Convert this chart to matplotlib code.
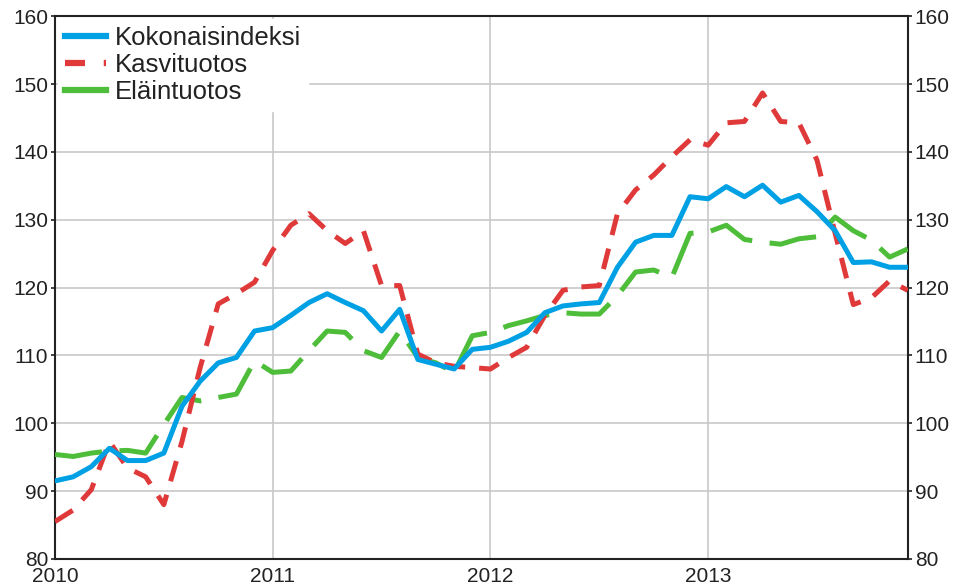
import numpy as np
import matplotlib.pyplot as plt

# kuukaudet 2010-01 ... 2013-12
months = np.arange(48)

kokonais = [91.5, 92.1, 93.6, 96.3, 94.5, 94.5, 95.6, 102.5, 106.2, 108.9, 109.7, 113.6,
            114.1, 115.9, 117.8, 119.1, 117.8, 116.6, 113.6, 116.8, 109.4, 108.7, 108.0, 110.9,
            111.2, 112.1, 113.4, 116.3, 117.3, 117.6, 117.8, 123.0, 126.7, 127.7, 127.7, 133.4,
            133.1, 134.9, 133.4, 135.1, 132.6, 133.6, 131.2, 128.4, 123.7, 123.8, 123.0, 123.0]

kasvi = [85.5, 87.2, 90.2, 97.3, 93.4, 92.1, 88.0, 97.3, 108.2, 117.6, 119.1, 120.8,
         125.5, 129.2, 130.9, 128.4, 126.5, 128.4, 120.3, 120.3, 110.2, 108.9, 108.4, 108.2,
         108.0, 109.7, 111.2, 115.9, 119.6, 120.1, 120.3, 130.9, 134.4, 136.6, 139.3, 141.8,
         141.0, 144.3, 144.5, 148.7, 144.5, 144.3, 138.8, 128.0, 117.5, 118.5, 121.0, 119.6]

elain = [95.4, 95.1, 95.6, 95.9, 96.0, 95.6, 99.8, 103.8, 103.3, 103.8, 104.3, 109.2,
         107.5, 107.7, 110.7, 113.6, 113.4, 110.7, 109.7, 113.6, 109.7, 108.9, 107.5, 112.9,
         113.4, 114.4, 115.1, 115.9, 116.3, 116.1, 116.1, 118.8, 122.3, 122.6, 121.5, 128.0,
         128.2, 129.2, 127.1, 126.7, 126.4, 127.2, 127.5, 130.4, 128.4, 127.0, 124.5, 125.7]

year_labels = ["2010", "2011", "2012", "2013"]

plt.rcParams['font.family'] = ['Liberation Sans', 'DejaVu Sans']

fig = plt.figure(figsize=(9.56, 5.84), dpi=100)
ax = fig.add_axes([0.0575, 0.043, 0.892, 0.929])

lw = 3.6
ax.plot(months, kokonais, color='#00a0e4', lw=lw, label='Kokonaisindeksi', zorder=5)
ax.plot(months, kasvi, color='#e0393a', lw=lw, dashes=(4.2, 2.8), label='Kasvituotos', zorder=4)
ax.plot(months, elain, color='#4dbd3a', lw=lw, dashes=(9.5, 3.5), label='Eläintuotos', zorder=3)

ax.set_xlim(0, 47)
ax.set_ylim(80, 160)
ax.set_xticks([0, 12, 24, 36])
ax.set_xticklabels(year_labels)
ax.set_yticks(np.arange(80, 161, 10))
ax.grid(True, color='#c8c8c8', lw=1.2)
ax.set_axisbelow(True)

ax.tick_params(axis='x', length=0, pad=5.5, labelsize=15, colors='#222222')
ax.tick_params(axis='y', length=3, width=1.2, pad=2, labelsize=15, colors='#222222',
               left=True, right=True, labelleft=True, labelright=True)
for s in ax.spines.values():
    s.set_color('#222222')
    s.set_linewidth(1.5)

leg = ax.legend(loc='upper left', fontsize=18.5, frameon=True, fancybox=False,
                borderaxespad=0.1, handlelength=1.6, handletextpad=0.35,
                labelspacing=0.12, borderpad=0.28)
leg.get_frame().set_edgecolor('white')
leg.get_frame().set_facecolor('white')
leg.get_frame().set_alpha(1)
for t in leg.get_texts():
    t.set_color('#222222')
for h in leg.get_lines():
    h.set_linewidth(4.5)
leg.get_lines()[1].set_dashes((3.2, 3.0))
leg.get_lines()[2].set_dashes((None, None))
leg.get_lines()[2].set_linestyle('-')

fig.savefig('out.png', dpi=100)
